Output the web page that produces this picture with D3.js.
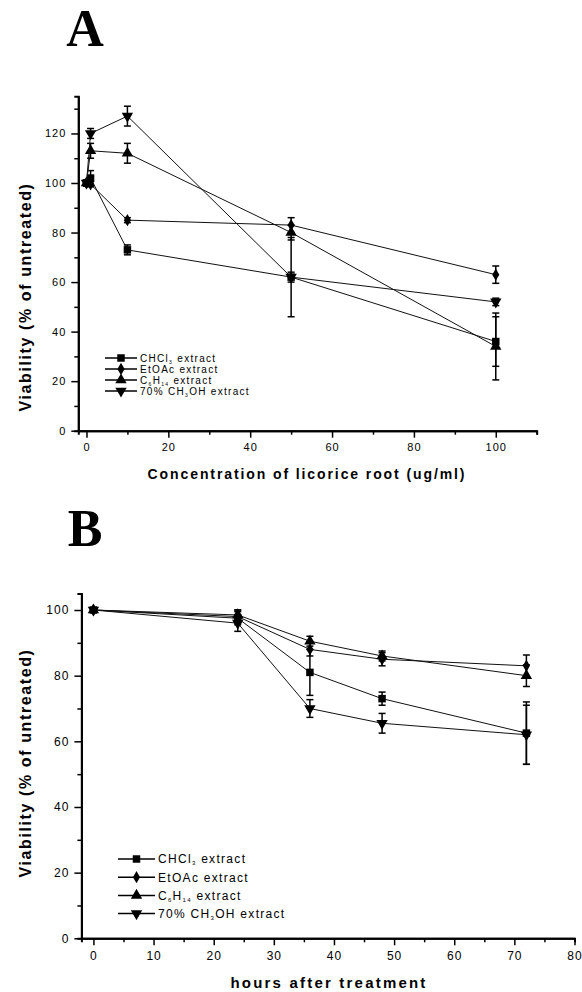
<!DOCTYPE html>
<html>
<head>
<meta charset="utf-8">
<script src="https://cdn.jsdelivr.net/npm/d3@7"></script>
<style>
  body { margin: 0; background: #fff; }
  svg { display: block; }
  text { font-family: "Liberation Sans", Arial, sans-serif; fill: #000; }
  .tick text { font-size: 11px; letter-spacing: 1px; }
  .title { font-weight: bold; }
  .panel { font-family: "Liberation Serif", "Times New Roman", serif; font-weight: bold; font-size: 52px; }
</style>
</head>
<body>
<div id="chart"></div>
<script>
// panel A: concentration (ug/ml)
var concA = [0, 1, 10, 50, 100]
var chclA = [100, 102, 73, 62, 36]
var chclAErr = [1, 3, 2, 16, 10]
var etoacA = [100, 99.5, 85, 83, 63]
var etoacAErr = [1, 1, 1, 3, 3.5]
var hexA = [100, 113, 112, 80, 34]
var hexAErr = [1, 3, 4, 3, 13.5]
var meohA = [100, 120, 127, 62, 52]
var meohAErr = [1, 2, 4, 2, 1.5]

// panel B: hours after treatment
var hoursB = [0, 24, 36, 48, 72]
var chclB = [100, 97.5, 81, 73, 62.5]
var chclBErr = [0.5, 2, 7, 2, 9.5]
var etoacB = [100, 98, 88, 85, 83]
var etoacBErr = [0.5, 2, 2, 2, 3.3]
var hexB = [100, 98.5, 90.5, 86, 80]
var hexBErr = [0.5, 1.5, 1.5, 1.5, 3.3]
var meohB = [100, 96, 70, 65.5, 62]
var meohBErr = [0.5, 2.5, 2.7, 3, 9]

// legend labels: [text, subscript] pieces
var legendLabels = [
    [['CHCl', ''], ['3', 'sub'], [' extract', '']],
    [['EtOAc extract', '']],
    [['C', ''], ['6', 'sub'], ['H', ''], ['14', 'sub'], [' extract', '']],
    [['70% CH', ''], ['3', 'sub'], ['OH extract', '']]
]
var symbols = ['square', 'diamond', 'up', 'down']

var yTicksA = [0, 20, 40, 60, 80, 100, 120]
var yMinorA = [10, 30, 50, 70, 90, 110, 130]
var xTicksA = [0, 20, 40, 60, 80, 100]
var xMinorA = [10, 30, 50, 70, 90, 110]
var yTicksB = [0, 20, 40, 60, 80, 100]
var yMinorB = [10, 30, 50, 70, 90]
var xTicksB = [0, 10, 20, 30, 40, 50, 60, 70, 80]
var xMinorB = [5, 15, 25, 35, 45, 55, 65, 75]

var svg = d3.select('#chart').append('svg')
    .attr('width', 582)
    .attr('height', 992)

function symbolPath(kind) {
    if (kind === 'square') return d3.symbol(d3.symbolSquare, 56)()
    if (kind === 'diamond') return d3.symbol(d3.symbolDiamond, 44)()
    return d3.symbol(d3.symbolTriangle, 56)()
}

function drawMarker(g, kind, x, y) {
    g.append('path')
        .attr('d', symbolPath(kind))
        .attr('transform', 'translate(' + x + ',' + y + ')' + (kind === 'down' ? ' rotate(180)' : ''))
        .attr('fill', '#000')
}

function panel(opt) {
    var x = d3.scaleLinear().domain(opt.xDomain).range(opt.xRange)
    var y = d3.scaleLinear().domain(opt.yDomain).range(opt.yRange)
    var g = svg.append('g')

    // panel letter
    g.append('text')
        .attr('class', 'panel')
        .attr('x', 85)
        .attr('y', opt.letterY)
        .attr('text-anchor', 'middle')
        .text(opt.letter)

    // axes
    var gx = g.append('g').attr('transform', 'translate(0,' + opt.yRange[0] + ')')
    gx.call(d3.axisBottom(x).tickValues(opt.xTicks).tickSize(7).tickSizeOuter(0).tickPadding(6))
    gx.append('g').call(d3.axisBottom(x).tickValues(opt.xMinor).tickSize(4).tickFormat(''))
    var gy = g.append('g').attr('transform', 'translate(' + opt.xRange[0] + ',0)')
    gy.call(d3.axisLeft(y).tickValues(opt.yTicks).tickSize(7).tickSizeOuter(0).tickPadding(5))
    gy.append('g').call(d3.axisLeft(y).tickValues(opt.yMinor).tickSize(4).tickFormat(''))
    g.selectAll('.domain').attr('stroke', '#000').attr('stroke-width', 2)
    g.selectAll('.tick line').attr('stroke', '#000').attr('stroke-width', 1.5)
    g.selectAll('.tick text').style('font-size', opt.tickFont + 'px')

    // axis titles
    g.append('text')
        .attr('class', 'title')
        .attr('x', opt.xTitlePos[0])
        .attr('y', opt.xTitlePos[1])
        .attr('text-anchor', 'middle')
        .style('font-size', opt.xTitleFont + 'px')
        .style('letter-spacing', opt.xTitleSpacing + 'px')
        .text(opt.xTitle)
    g.append('text')
        .attr('class', 'title')
        .attr('transform', 'translate(' + opt.yTitlePos[0] + ',' + opt.yTitlePos[1] + ') rotate(-90)')
        .attr('text-anchor', 'middle')
        .style('font-size', '16px')
        .style('letter-spacing', '1.6px')
        .text('Viability (% of untreated)')

    // lines, error bars, markers
    var line = d3.line()
        .x(function (d) { return x(d[0]) })
        .y(function (d) { return y(d[1]) })
    opt.series.forEach(function (s, i) {
        var pts = opt.xs.map(function (xv, j) { return [xv, s.values[j], s.err[j]] })
        g.append('path')
            .datum(pts)
            .attr('d', line)
            .attr('fill', 'none')
            .attr('stroke', '#111')
            .attr('stroke-width', 1)
        pts.forEach(function (p) {
            var cx = x(p[0])
            var y0 = y(p[1] - p[2])
            var y1 = y(p[1] + p[2])
            g.append('line').attr('x1', cx).attr('x2', cx).attr('y1', y0).attr('y2', y1)
                .attr('stroke', '#000').attr('stroke-width', 1.5)
            g.append('line').attr('x1', cx - 3.5).attr('x2', cx + 3.5).attr('y1', y0).attr('y2', y0)
                .attr('stroke', '#000').attr('stroke-width', 1.5)
            g.append('line').attr('x1', cx - 3.5).attr('x2', cx + 3.5).attr('y1', y1).attr('y2', y1)
                .attr('stroke', '#000').attr('stroke-width', 1.5)
            drawMarker(g, symbols[i], cx, y(p[1]))
        })
    })

    // legend
    var lg = g.append('g')
    legendLabels.forEach(function (lab, i) {
        var ly = opt.legend.y0 + i * opt.legend.dy
        lg.append('line')
            .attr('x1', opt.legend.x0).attr('x2', opt.legend.x1)
            .attr('y1', ly).attr('y2', ly)
            .attr('stroke', '#000').attr('stroke-width', 1.5)
        drawMarker(lg, symbols[i], (opt.legend.x0 + opt.legend.x1) / 2, ly)
        var t = lg.append('text')
            .attr('x', opt.legend.x1 + 3)
            .attr('y', ly + opt.legend.font * 0.36)
            .style('font-size', opt.legend.font + 'px')
            .style('letter-spacing', opt.legend.spacing + 'px')
        var shift = 0
        lab.forEach(function (piece) {
            var sp = t.append('tspan').text(piece[0])
            if (piece[1] === 'sub') {
                sp.attr('dy', 2 - shift).style('font-size', (opt.legend.font * 0.5) + 'px')
                shift = 2
            } else {
                if (shift) sp.attr('dy', -shift)
                shift = 0
            }
        })
    })
}

panel({
    letter: 'A', letterY: 46,
    xDomain: [-2, 110], xRange: [78.3, 536.7],
    yDomain: [0, 135], yRange: [430.7, 96.3],
    xTicks: xTicksA, xMinor: xMinorA, yTicks: yTicksA, yMinor: yMinorA,
    tickFont: 11,
    xTitle: 'Concentration of licorice root (ug/ml)', xTitlePos: [307, 479], xTitleFont: 14, xTitleSpacing: 1.9,
    yTitlePos: [31, 297],
    xs: concA,
    series: [
        { values: chclA, err: chclAErr },
        { values: etoacA, err: etoacAErr },
        { values: hexA, err: hexAErr },
        { values: meohA, err: meohAErr }
    ],
    legend: { x0: 105, x1: 137, y0: 358, dy: 11, font: 10, spacing: 1.3 }
})

panel({
    letter: 'B', letterY: 546,
    xDomain: [-2, 80], xRange: [81.4, 574.5],
    yDomain: [0, 105], yRange: [938.3, 593.6],
    xTicks: xTicksB, xMinor: xMinorB, yTicks: yTicksB, yMinor: yMinorB,
    tickFont: 12,
    xTitle: 'hours after treatment', xTitlePos: [329, 988], xTitleFont: 15, xTitleSpacing: 2.2,
    yTitlePos: [31, 763],
    xs: hoursB,
    series: [
        { values: chclB, err: chclBErr },
        { values: etoacB, err: etoacBErr },
        { values: hexB, err: hexBErr },
        { values: meohB, err: meohBErr }
    ],
    legend: { x0: 118, x1: 155, y0: 859, dy: 18.2, font: 12, spacing: 1.3 }
})
</script>
</body>
</html>
